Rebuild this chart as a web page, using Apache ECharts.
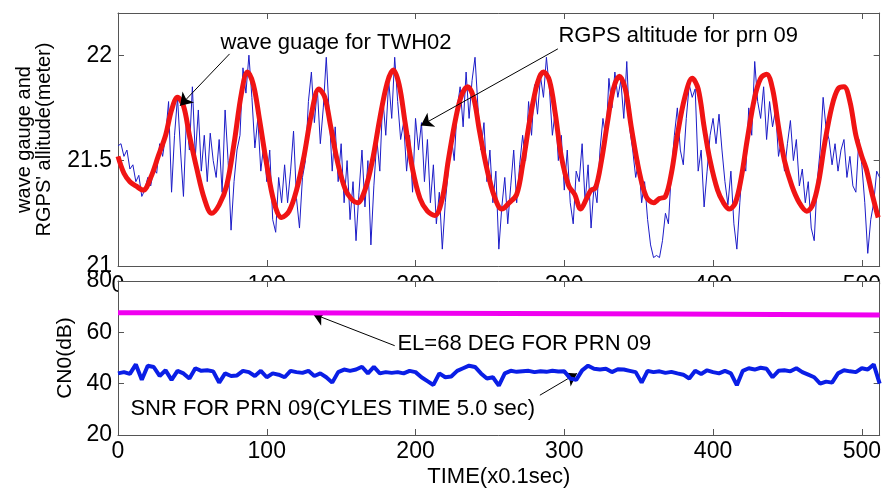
<!DOCTYPE html>
<html><head><meta charset="utf-8">
<script src="https://cdn.jsdelivr.net/npm/echarts@6/dist/echarts.min.js"></script>
<style>html,body{margin:0;padding:0;background:#fff}#c{width:884px;height:489px}</style>
</head><body><div id="c"></div>
<script>
// ---------------- data ----------------
// wave gauge (TWH02), sampled every 2 units of x0.1 sec, t = 0..512
const waveStep = 2;
const waveGauge = [
21.57,21.58,21.52,21.55,21.46,21.48,21.40,21.43,21.33,21.36,
21.42,21.38,21.46,21.44,21.58,21.52,21.62,21.78,21.35,21.62,
21.80,21.55,21.33,21.70,21.55,21.85,21.52,21.74,21.45,21.62,
21.40,21.63,21.50,21.42,21.60,21.35,21.74,21.50,21.17,21.40,
21.55,21.62,21.94,21.82,22.00,21.80,21.56,21.70,21.45,21.58,
21.40,21.55,21.22,21.16,21.42,21.30,21.48,21.30,21.45,21.64,
21.32,21.18,21.42,21.50,21.78,21.92,21.68,21.84,21.58,21.75,
21.99,21.72,21.45,21.66,21.40,21.58,21.30,21.50,21.22,21.40,
21.12,21.35,21.55,21.28,21.50,21.10,21.38,21.60,21.45,21.80,
21.62,21.88,21.70,21.99,21.78,21.60,21.68,21.45,21.62,21.35,
21.70,21.55,21.68,21.40,21.60,21.30,21.48,21.20,21.35,21.08,
21.30,21.45,21.62,21.50,21.75,21.85,21.66,21.92,21.70,21.88,
21.99,21.75,21.55,21.68,21.40,21.55,21.30,21.45,21.08,21.28,
21.42,21.20,21.38,21.55,21.30,21.48,21.62,21.50,21.78,21.62,
21.86,21.72,21.90,21.80,21.99,21.84,21.62,21.74,21.50,21.62,
21.36,21.55,21.30,21.20,21.45,21.40,21.58,21.30,21.48,21.18,
21.38,21.30,21.55,21.70,21.60,21.89,21.75,21.92,21.80,21.88,
21.70,21.97,21.65,21.55,21.42,21.50,21.30,21.40,21.22,21.10,
21.04,21.05,21.04,21.12,21.25,21.20,21.45,21.62,21.75,21.55,
21.48,21.70,21.86,21.80,21.84,21.45,21.55,21.28,21.45,21.62,
21.70,21.58,21.72,21.55,21.40,21.29,21.45,21.20,21.08,21.30,
21.50,21.45,21.75,21.62,21.97,21.78,21.70,21.85,21.60,21.78,
21.66,21.74,21.52,21.60,21.45,21.58,21.69,21.50,21.60,21.38,
21.46,21.30,21.40,21.18,21.12,21.40,21.55,21.80,21.65,21.60,
21.48,21.58,21.45,21.55,21.60,21.42,21.52,21.38,21.35,21.60,
21.48,21.30,21.06,21.22,21.30,21.45,21.42
];
// RGPS altitude for prn 09: [time, altitude]
const rgpsAltitude = [
[0,21.52],[4,21.44],[8,21.40],[12,21.38],[17,21.36],[22,21.42],[27,21.52],[32,21.62],[36,21.74],[40,21.80],
[44,21.76],[48,21.62],[53,21.46],[58,21.32],[63,21.25],[68,21.29],[73,21.38],[78,21.58],[83,21.82],[87,21.92],
[91,21.86],[95,21.70],[100,21.48],[105,21.30],[110,21.23],[115,21.26],[120,21.36],[125,21.52],[130,21.72],[135,21.84],
[139,21.80],[143,21.66],[148,21.48],[153,21.36],[158,21.31],[161,21.30],[166,21.36],[171,21.50],[176,21.70],[181,21.87],
[185,21.93],[189,21.86],[193,21.68],[198,21.46],[203,21.32],[208,21.26],[213,21.24],[218,21.32],[222,21.50],[227,21.70],
[231,21.81],[235,21.85],[239,21.80],[243,21.64],[248,21.46],[253,21.33],[258,21.27],[263,21.30],[268,21.34],[272,21.48],
[277,21.70],[282,21.87],[286,21.92],[290,21.88],[294,21.72],[298,21.52],[303,21.38],[307,21.34],[311,21.27],[315,21.32],
[318,21.36],[321,21.37],[325,21.50],[329,21.68],[333,21.84],[337,21.90],[341,21.84],[345,21.66],[350,21.46],[355,21.33],
[360,21.30],[364,21.32],[368,21.33],[372,21.44],[376,21.62],[381,21.80],[386,21.89],[390,21.84],[394,21.66],[398,21.50],
[403,21.36],[407,21.30],[411,21.27],[415,21.30],[419,21.42],[423,21.60],[428,21.80],[432,21.89],[436,21.91],[440,21.84],
[444,21.66],[448,21.50],[453,21.38],[458,21.30],[463,21.26],[467,21.29],[471,21.40],[475,21.58],[480,21.76],[484,21.84],
[488,21.85],[492,21.78],[496,21.62],[500,21.52],[503,21.46],[507,21.34],[511,21.23]
];
// SNR (CN0) for PRN 09, sampled every 4 units, t = 0..512
const snrStep = 4;
const snrValues = [
44.0,44.5,43.8,47.5,41.5,47.0,46.5,43.0,45.2,41.5,45.0,44.0,42.0,46.0,45.0,45.2,
44.8,40.4,44.0,43.0,43.2,45.0,44.5,43.0,45.0,42.5,44.0,43.5,42.5,45.0,44.5,44.2,
45.0,43.0,44.0,42.5,40.4,44.5,45.5,45.0,45.5,46.6,44.0,46.5,44.0,44.5,44.2,44.5,
44.0,45.0,44.5,42.5,41.0,39.5,44.0,42.5,42.8,45.0,46.0,47.0,46.5,44.0,42.0,42.5,
39.2,44.0,45.0,44.6,44.8,45.0,44.5,44.8,44.6,45.0,44.7,44.8,42.0,41.5,45.2,47.0,
45.8,45.5,45.8,44.5,45.6,45.5,45.0,44.5,40.4,45.0,44.5,44.8,44.2,44.6,44.0,43.5,
42.0,45.0,43.8,45.2,44.5,44.0,45.0,44.0,39.4,45.0,46.0,45.5,46.2,45.8,42.5,45.0,
45.2,44.8,46.0,44.5,43.5,42.5,40.0,40.8,40.4,44.0,45.2,44.8,44.5,46.0,45.5,47.5,
40.0
];
// elevation (EL=68 deg) reference level
const elTime = [0, 100, 372, 512];
const elValue = [67.6, 67.1, 66.8, 66.8];

const xMax = 512;
const topY = {min: 21, max: 22.2, interval: 0.5};
const botY = {min: 20, max: 80, interval: 20};

// annotations (data coordinates)
const annTop = [
  {text: 'wave guage for TWH02', at: [68.5, 22.058], from: [75, 22.006], to: [41.7, 21.76]},
  {text: 'RGPS altitude for prn 09', at: [295.7, 22.09], from: [295.7, 22.03], to: [203.6, 21.666]}
];
const annBot = [
  {text: 'EL=68 DEG FOR PRN 09', at: [187.5, 55.4], from: [186, 54.8], to: [131, 67.2]},
  {text: 'SNR FOR PRN 09(CYLES TIME 5.0 sec)', at: [8, 30.3], from: [283.6, 35.5], to: [308.5, 44]}
];

// ---------------- chart ----------------
const FONT = 'Liberation Sans, Arial, sans-serif';
const frame = '#555555';
const chart = echarts.init(document.getElementById('c'), null, {renderer: 'canvas'});

function boxAxisX(gridIndex, pos, showLabel, z, extra) {
  return Object.assign({
    type: 'value', gridIndex, position: pos, min: 0, max: xMax, interval: 100, z,
    axisLine: {show: true, onZero: false, lineStyle: {color: frame, width: 1}},
    axisTick: {show: true, inside: true, length: 6, lineStyle: {color: frame}},
    axisLabel: {show: showLabel, color: '#000', fontFamily: FONT, fontSize: 23, margin: 5, showMaxLabel: false},
    splitLine: {show: false}
  }, extra || {});
}
function boxAxisY(gridIndex, pos, showLabel, rng, z, showMax, extra) {
  return Object.assign({
    type: 'value', gridIndex, position: pos, min: rng.min, max: rng.max, interval: rng.interval, z,
    axisLine: {show: true, onZero: false, lineStyle: {color: frame, width: 1}},
    axisTick: {show: true, inside: true, length: 6, lineStyle: {color: frame}},
    axisLabel: {show: showLabel, color: '#000', fontFamily: FONT, fontSize: 23, margin: 6, showMaxLabel: showMax},
    splitLine: {show: false}
  }, extra || {});
}

function markers(list) {
  return {
    markLine: {
      silent: true, symbol: ['none', 'arrow'], symbolSize: 12, animation: false,
      label: {show: false},
      lineStyle: {color: '#000', width: 1, type: 'solid'},
      emphasis: {disabled: true},
      data: list.map(a => [{coord: a.from}, {coord: a.to}])
    },
    markPoint: {
      silent: true, symbol: 'circle', symbolSize: 1, animation: false,
      itemStyle: {color: 'rgba(0,0,0,0)'},
      label: {show: true, position: 'right', distance: 0, color: '#000', fontFamily: FONT, fontSize: 22,
              formatter: p => p.name},
      data: list.map(a => ({name: a.text, coord: a.at}))
    }
  };
}

const option = {
  animation: false,
  backgroundColor: '#fff',
  grid: [
    {left: 118, top: 13, width: 762, height: 253, show: false},
    {left: 118, top: 281, width: 762, height: 154, show: false}
  ],
  xAxis: [
    boxAxisX(0, 'bottom', true, 0, {axisLabel: {show: true, color: '#000', fontFamily: FONT, fontSize: 23, margin: 8, showMaxLabel: false}}),
    boxAxisX(0, 'top', false, 0),
    boxAxisX(1, 'bottom', true, 5, {name: 'TIME(x0.1sec)', nameLocation: 'middle', nameGap: 31,
      nameTextStyle: {color: '#000', fontFamily: FONT, fontSize: 22}}),
    boxAxisX(1, 'top', false, 5)
  ],
  yAxis: [
    boxAxisY(0, 'left', true, topY, 0, false, {name: "wave gauge and\nRGPS' allitude(meter)", nameLocation: 'middle', nameGap: 64,
      nameTextStyle: {color: '#000', fontFamily: FONT, fontSize: 20, lineHeight: 20}}),
    boxAxisY(0, 'right', false, topY, 0, false),
    boxAxisY(1, 'left', true, botY, 5, true, {name: 'CN0(dB)', nameLocation: 'middle', nameGap: 38,
      nameTextStyle: {color: '#000', fontFamily: FONT, fontSize: 21}}),
    boxAxisY(1, 'right', false, botY, 5, true)
  ],
  series: [
    Object.assign({
      name: 'wave gauge', type: 'line', xAxisIndex: 0, yAxisIndex: 0, showSymbol: false, z: 2,
      lineStyle: {color: '#1c1cc8', width: 1},
      data: waveGauge.map((v, i) => [i * waveStep, v])
    }, markers(annTop)),
    {
      name: 'RGPS altitude', type: 'line', xAxisIndex: 0, yAxisIndex: 0, showSymbol: false, z: 3,
      smooth: 0.35, lineStyle: {color: '#f01414', width: 5},
      data: rgpsAltitude
    },
    {
      name: 'EL', type: 'line', xAxisIndex: 2, yAxisIndex: 2, showSymbol: false, z: 6, step: 'end',
      lineStyle: {color: '#f000f0', width: 5},
      data: elTime.map((t, i) => [t, elValue[i]])
    },
    Object.assign({
      name: 'SNR', type: 'line', xAxisIndex: 2, yAxisIndex: 2, showSymbol: false, z: 6,
      lineStyle: {color: '#0a1ee6', width: 4},
      data: snrValues.map((v, i) => [i * snrStep, v])
    }, markers(annBot))
  ]
};
chart.setOption(option);

// white plotting area of the lower panel, drawn over the upper panel's cut-off tick labels
const p0 = chart.convertToPixel({gridIndex: 1}, [0, botY.max]);
const p1 = chart.convertToPixel({gridIndex: 1}, [xMax, botY.min]);
chart.setOption({
  graphic: [{
    type: 'rect', z: 2, silent: true,
    shape: {x: p0[0], y: p0[1], width: p1[0] - p0[0], height: p1[1] - p0[1]},
    style: {fill: '#fff'}
  }]
});
</script>
</body></html>
